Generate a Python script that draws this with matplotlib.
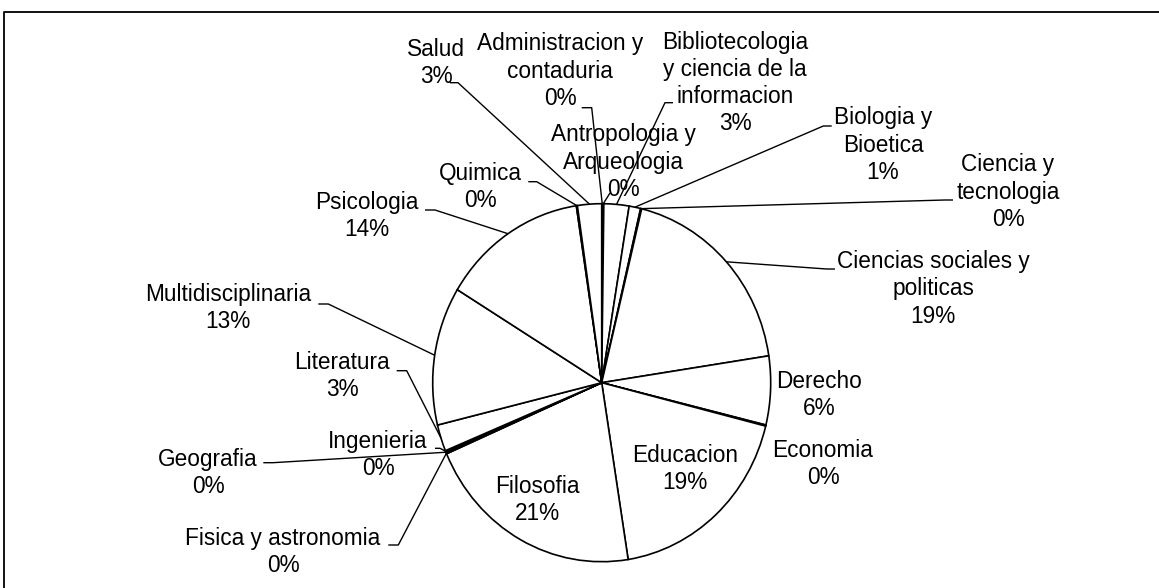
import matplotlib
matplotlib.use("Agg")
import matplotlib.pyplot as plt
from matplotlib.transforms import Affine2D
import numpy as np

# ---- data -------------------------------------------------------------
categories = [
    "Administracion y\ncontaduria",
    "Antropologia y\nArqueologia",
    "Bibliotecologia\ny ciencia de la\ninformacion",
    "Biologia y\nBioetica",
    "Ciencia y\ntecnologia",
    "Ciencias sociales y\npoliticas",
    "Derecho",
    "Economia",
    "Educacion",
    "Filosofia",
    "Fisica y astronomia",
    "Geografia",
    "Ingenieria",
    "Literatura",
    "Multidisciplinaria",
    "Psicologia",
    "Quimica",
    "Salud",
]
values = [0.1, 0.1, 2.4, 1.1, 0.1, 18.8, 6.2, 0.1, 18.6, 21.0,
          0.1, 0.1, 0.1, 2.4, 12.5, 13.9, 0.1, 2.3]
pct_labels = ["0%", "0%", "3%", "1%", "0%", "19%", "6%", "0%", "19%", "21%",
              "0%", "0%", "0%", "3%", "13%", "14%", "0%", "3%"]

# ---- layout (pixel coordinates) -----------------------------------------
W, H = 1159, 588
CX, CY, RX, RY = 601.7, 382.7, 169, 179

# label centre, leader anchor, elbow x (None = no leader)
label_layout = [
    ((560, 71), (581.7, 107.7), 591.7),
    ((623, 162), (610, 193), 610),
    ((735, 83), (673, 102.7), 665),
    ((883, 145), (831.7, 126), 823.3),
    ((1008, 192), (953, 200), 945),
    ((933, 289), (835, 269), 826.7),
    ((819, 395), None, None),
    ((823, 464), None, None),
    ((685, 469), None, None),
    ((537, 500), None, None),
    ((283, 552), (388.3, 545), 398.3),
    ((208, 473), (263.3, 462.7), 273),
    ((378, 455), (435, 448.3), 440),
    ((342, 376), (396.7, 370.7), 406.7),
    ((228, 308), (318.3, 304), 328.3),
    ((367, 216), (425, 210), 435),
    ((480, 187), (528.3, 181.7), 536.7),
    ((436, 63), (450, 82.7), 458),
]

plt.rcParams['font.family'] = ['Liberation Sans', 'DejaVu Sans']

fig = plt.figure(figsize=(W / 100, H / 100), dpi=100)
ax = fig.add_axes([0, 0, 1, 1])

wedges, _ = ax.pie(values, startangle=90, counterclock=False,
                   wedgeprops=dict(facecolor="white", edgecolor="black",
                                   linewidth=1.2))
ax.set_aspect("auto")
ax.set_xlim(0, W)
ax.set_ylim(H, 0)
ax.axis("off")

pie_tf = Affine2D().scale(RX, -RY).translate(CX, CY)
for w in wedges:
    w.set_transform(pie_tf + ax.transData)

for w, cat, pct, (ctr, anchor, elbow_x) in zip(wedges, categories, pct_labels, label_layout):
    ax.text(ctr[0], ctr[1], f"{cat}\n{pct}", ha="center", va="center",
            multialignment="center", fontsize=16.3, linespacing=1.24,
            color="black", zorder=5)
    if anchor is not None:
        mid = np.deg2rad((w.theta1 + w.theta2) / 2)
        ex, ey = pie_tf.transform((np.cos(mid), np.sin(mid)))
        ax.plot([anchor[0], elbow_x, ex], [anchor[1], anchor[1], ey],
                color="black", lw=1.0, zorder=4, solid_capstyle="butt")

# chart area frame
ax.plot([3.5, 3.5, W + 5], [H + 5, 11.5, 11.5], color="black", lw=1.3,
        clip_on=False)

fig.savefig("out.png", dpi=100)
